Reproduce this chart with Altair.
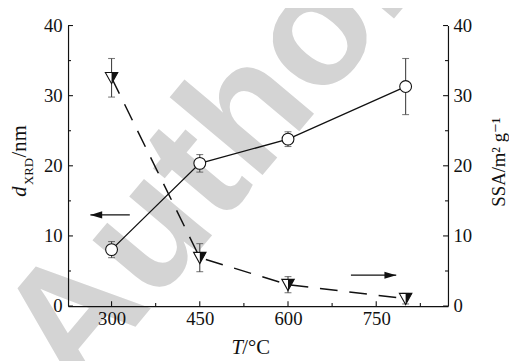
import altair as alt
import pandas as pd

# ---- data ----
T = [300, 450, 600, 800]
d_xrd = [8.05, 20.35, 23.8, 31.3]
d_err = [1.15, 1.25, 1.05, 4.0]
ssa = [32.55, 6.9, 3.05, 1.05]
ssa_err = [2.75, 2.0, 1.15, 0.75]

x_ticks = [300, 450, 600, 750]
x_minor = [375, 525, 675, 825]
y_ticks = [0, 10, 20, 30, 40]
y_minor = [5, 15, 25, 35]

arrow_left_x = [264, 331]
arrow_left_y = [13.0]
arrow_right_x = [707, 784]
arrow_right_y = [4.4]

W, H = 386, 285
FONT = "Liberation Serif"
INK = "#111111"

xscale = alt.Scale(domain=[226, 872], nice=False, zero=False)
yscale = alt.Scale(domain=[0, 40], nice=False)

xaxis = alt.Axis(values=x_ticks, ticks=False, title=None, labelFontSize=19, labelPadding=4,
                 labelFont=FONT, labelColor=INK, domainColor=INK, domainWidth=1.2,
                 grid=False, zindex=1, labelFlush=False, labelOverlap=False)
lyaxis = alt.Axis(values=y_ticks, ticks=False, title=None, orient="left", labelFontSize=19,
                  labelPadding=6, labelFont=FONT, labelColor=INK, domainColor=INK,
                  domainWidth=1.2, grid=False, zindex=1, labelFlush=False, labelOverlap=False)
ryaxis = alt.Axis(values=y_ticks, ticks=False, title=None, orient="right", labelFontSize=19,
                  labelPadding=5, labelFont=FONT, labelColor=INK, domainColor=INK,
                  domainWidth=1.2, grid=False, zindex=1, labelFlush=False, labelOverlap=False)


def X(field):
    return alt.X(f"{field}:Q", scale=xscale, axis=xaxis)


def YL(field):
    return alt.Y(f"{field}:Q", scale=yscale, axis=lyaxis)


def YR(field):
    return alt.Y(f"{field}:Q", scale=yscale, axis=ryaxis)


d_df = pd.DataFrame({"T": T, "v": d_xrd,
                     "lo": [v - e for v, e in zip(d_xrd, d_err)],
                     "hi": [v + e for v, e in zip(d_xrd, d_err)]})
s_df = pd.DataFrame({"T": T, "v": ssa,
                     "lo": [max(v - e, 0) for v, e in zip(ssa, ssa_err)],
                     "hi": [v + e for v, e in zip(ssa, ssa_err)]})

xt_df = pd.DataFrame({"v": x_ticks})
xm_df = pd.DataFrame({"v": x_minor})
yt_df = pd.DataFrame({"v": y_ticks})
ym_df = pd.DataFrame({"v": y_minor})
al_df = pd.DataFrame({"x1": [arrow_left_x[0]], "x2": [arrow_left_x[1]], "y": arrow_left_y})
ar_df = pd.DataFrame({"x1": [arrow_right_x[0]], "x2": [arrow_right_x[1]], "y": arrow_right_y})


def label(txt, x, y, size=20, angle=0, style="normal", color=INK, font=FONT, weight="normal"):
    return alt.Chart(pd.DataFrame({"t": [txt]})).mark_text(
        font=font, fontSize=size, fontStyle=style, fontWeight=weight, color=color,
        align="left", baseline="alphabetic", angle=angle
    ).encode(x=alt.value(x), y=alt.value(y), text="t:N")


watermark = label("Author", 8, 378, size=170, angle=310, color="#d4d4d4",
                  font="Liberation Sans", weight="bold")

x_major_ticks = alt.Chart(xt_df).mark_rule(color=INK, strokeWidth=1.1).encode(
    x=X("v"), y=alt.value(H), y2=alt.value(H - 5))
x_minor_ticks = alt.Chart(xm_df).mark_rule(color=INK, strokeWidth=1.1).encode(
    x=X("v"), y=alt.value(H), y2=alt.value(H - 3))

yl_major = alt.Chart(yt_df).mark_rule(color=INK, strokeWidth=1.1).encode(
    y=YL("v"), x=alt.value(0), x2=alt.value(5))
yl_minor = alt.Chart(ym_df).mark_rule(color=INK, strokeWidth=1.1).encode(
    y=YL("v"), x=alt.value(0), x2=alt.value(3))

d_err_rule = alt.Chart(d_df).mark_rule(color="#444444", strokeWidth=1.1).encode(
    x=X("T"), y=YL("lo"), y2="hi")
d_cap_lo = alt.Chart(d_df).mark_tick(color="#444444", orient="horizontal", size=7, thickness=1.1).encode(
    x=X("T"), y=YL("lo"))
d_cap_hi = alt.Chart(d_df).mark_tick(color="#444444", orient="horizontal", size=7, thickness=1.1).encode(
    x=X("T"), y=YL("hi"))
d_line = alt.Chart(d_df).mark_line(color=INK, strokeWidth=1.3).encode(x=X("T"), y=YL("v"))
d_pts = alt.Chart(d_df).mark_point(shape="circle", size=144, filled=True, fill="white",
                                   stroke=INK, strokeWidth=1.1, opacity=1).encode(
    x=X("T"), y=YL("v"))

al_rule = alt.Chart(al_df).mark_rule(color=INK, strokeWidth=1.3).encode(
    x=X("x1"), x2="x2", y=YL("y"))
al_head = alt.Chart(al_df).mark_point(shape="M0,0 L2,-0.6 L2,0.6 Z", size=144, filled=True,
                                      color=INK, opacity=1).encode(x=X("x1"), y=YL("y"))

t_d = label("d", -43, 174, size=21, angle=270, style="italic")
t_xrd = label("XRD", -36, 162, size=13, angle=270)
t_nm = label("/nm", -43, 134, size=21, angle=270)
t_T = label("T", 166, 334, size=21, style="italic")
t_C = label("/°C", 177, 334, size=21)

left = alt.layer(watermark, x_major_ticks, x_minor_ticks, yl_major, yl_minor,
                 d_err_rule, d_cap_lo, d_cap_hi, d_line, d_pts, al_rule, al_head,
                 t_d, t_xrd, t_nm, t_T, t_C)

yr_major = alt.Chart(yt_df).mark_rule(color=INK, strokeWidth=1.1).encode(
    y=YR("v"), x=alt.value(W), x2=alt.value(W - 5))
yr_minor = alt.Chart(ym_df).mark_rule(color=INK, strokeWidth=1.1).encode(
    y=YR("v"), x=alt.value(W), x2=alt.value(W - 3))

s_err_rule = alt.Chart(s_df).mark_rule(color="#444444", strokeWidth=1.1).encode(
    x=X("T"), y=YR("lo"), y2="hi")
s_cap_lo = alt.Chart(s_df).mark_tick(color="#444444", orient="horizontal", size=7, thickness=1.1).encode(
    x=X("T"), y=YR("lo"))
s_cap_hi = alt.Chart(s_df).mark_tick(color="#444444", orient="horizontal", size=7, thickness=1.1).encode(
    x=X("T"), y=YR("hi"))
s_line = alt.Chart(s_df).mark_line(color=INK, strokeWidth=1.5, strokeDash=[18, 12],
                                   interpolate="linear").encode(x=X("T"), y=YR("v"))
s_tri = alt.Chart(s_df).mark_point(shape="M-1,-0.85 L1,-0.85 L0,0.95 Z", size=160, filled=True,
                                   fill="white", stroke=INK, strokeWidth=1.1, opacity=1).encode(
    x=X("T"), y=YR("v"))
s_half = alt.Chart(s_df).mark_point(shape="M0,-0.85 L1,-0.85 L0,0.95 Z", size=160, filled=True,
                                    color=INK, opacity=1).encode(x=X("T"), y=YR("v"))

ar_rule = alt.Chart(ar_df).mark_rule(color=INK, strokeWidth=1.3).encode(
    x=X("x1"), x2="x2", y=YR("y"))
ar_head = alt.Chart(ar_df).mark_point(shape="M0,0 L-2,-0.6 L-2,0.6 Z", size=144, filled=True,
                                      color=INK, opacity=1).encode(x=X("x2"), y=YR("y"))

t_ssa = label("SSA/m² g⁻¹", 444, 184, size=19, angle=270,
              font="Liberation Serif, DejaVu Serif")

right = alt.layer(yr_major, yr_minor, s_err_rule, s_cap_lo, s_cap_hi, s_line, s_tri, s_half,
                  ar_rule, ar_head, t_ssa)

chart = alt.layer(left, right).resolve_scale(y="independent").properties(
    width=W, height=H,
    autosize=alt.AutoSizeParams(type="none"),
    padding={"left": 61, "top": 15, "right": 62, "bottom": 53},
    background="white",
).configure_view(stroke=None)

chart.save("out.html", embed_options={"renderer": "svg", "actions": False})
